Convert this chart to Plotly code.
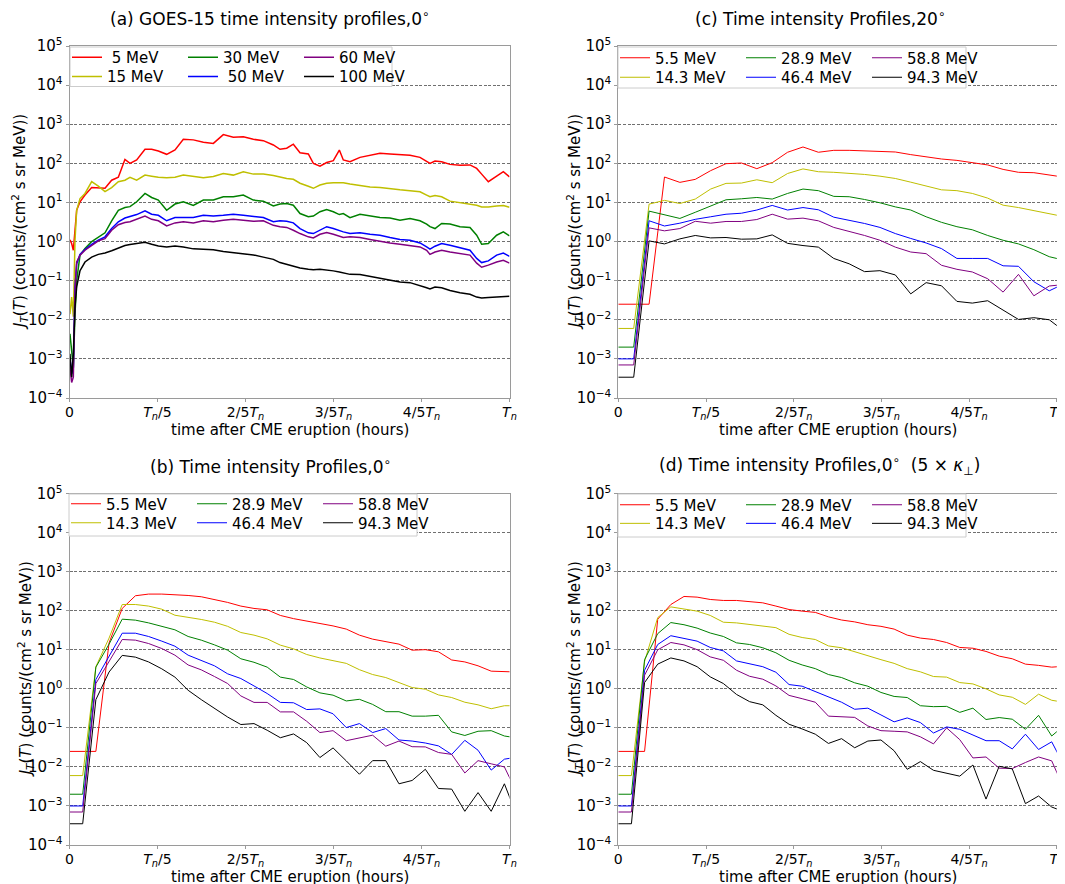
import plotly.graph_objects as go

W, H = 1065, 884

# ---------------- data ----------------
# (a) GOES-15 observations, time as fraction of Tn
t_goes = [0.001, 0.0049, 0.0087, 0.0125, 0.0163, 0.0239, 0.0352, 0.0504, 0.0655, 0.0807,
          0.0958, 0.111, 0.126, 0.1375, 0.1527, 0.1716, 0.1867, 0.2019, 0.2208, 0.2398,
          0.2587, 0.2814, 0.3042, 0.3269, 0.3496, 0.3723, 0.395, 0.4178, 0.4405, 0.4633,
          0.4784, 0.4936, 0.5087, 0.5239, 0.5428, 0.5542, 0.5693, 0.5845, 0.5996, 0.6133,
          0.6223, 0.6375, 0.6602, 0.683, 0.7057, 0.7284, 0.7511, 0.7739, 0.7966, 0.8117,
          0.8193, 0.8307, 0.8458, 0.8648, 0.8875, 0.9102, 0.9254, 0.9367, 0.9519, 0.9708,
          0.986, 1.0]
goes_5 = [1.1, 0.89, 0.6, 2.2, 6.3, 10.4, 15.5, 24, 24, 23,
          37, 44, 126, 100, 122, 229, 229, 207, 170, 219,
          412, 398, 347, 324, 543, 464, 479, 412, 380, 295,
          229, 243, 309, 187, 174, 100, 85, 105, 117, 219,
          122, 110, 142, 163, 180, 174, 170, 160, 142, 115,
          100, 115, 110, 94, 89, 91, 74, 53, 34, 47,
          61, 45]
goes_15 = [0.014, 0.038, 0.012, 1.08, 6.3, 12.6, 17, 34, 26, 19,
           24, 34, 37, 44, 37, 50, 47, 44, 43, 44,
           50, 46, 43, 46, 55, 50, 61, 53, 53, 49,
           44, 41, 39, 31, 26, 23, 28, 31, 32, 32,
           32, 29.5, 27, 25, 24, 22, 21, 20, 18.8, 15.4,
           14, 15.1, 14, 10.8, 9.8, 9.1, 8.5, 7.7, 7.6, 8.1,
           8.4, 7.5]
goes_30 = [0.0044, 0.00134, 0.0006, 0.014, 0.1, 0.45, 0.66, 1.0, 1.32, 1.67,
           3.4, 6.3, 7.4, 7.8, 10.4, 17, 13.4, 11.5, 6.3, 9.1,
           10.4, 8.4, 11.5, 11.5, 14, 14, 15.5, 11.5, 10.8, 8.1,
           9.1, 9.4, 8.5, 5.2, 4.3, 4.5, 5.8, 6.6, 5.8, 4.9,
           5.2, 4.1, 5.0, 4.5, 4.1, 4.0, 3.5, 3.9, 3.4, 2.8,
           2.4, 2.15, 2.9, 2.8, 2.4, 2.3, 1.45, 0.85, 0.89, 1.45,
           1.77, 1.4]
goes_50 = [0.0011, 0.00041, 0.0006, 0.069, 0.27, 0.47, 0.62, 0.85, 1.08, 1.32,
           2.15, 3.2, 4.0, 4.3, 4.9, 6.1, 5.0, 4.7, 3.4, 4.1,
           4.1, 4.1, 4.7, 4.5, 4.7, 5.0, 4.7, 4.3, 4.1, 3.2,
           3.4, 3.3, 3.0, 2.15, 1.67, 1.6, 1.95, 2.4, 2.15, 1.88,
           1.77, 1.6, 1.67, 1.54, 1.45, 1.27, 1.13, 1.08, 0.92, 0.73,
           0.64, 0.76, 0.89, 0.8, 0.69, 0.6, 0.37, 0.29, 0.32, 0.45,
           0.51, 0.42]
goes_60 = [0.0006, 0.00025, 0.00034, 0.056, 0.3, 0.45, 0.6, 0.8, 1.04, 1.19,
           1.95, 2.7, 3.07, 3.2, 3.7, 4.5, 3.7, 3.4, 2.5, 3.0,
           3.2, 3.0, 3.4, 3.2, 3.5, 3.7, 3.5, 3.3, 3.4, 2.6,
           2.4, 2.3, 1.95, 1.6, 1.32, 1.24, 1.54, 1.7, 1.54, 1.37,
           1.27, 1.32, 1.27, 1.13, 1.0, 0.92, 0.85, 0.79, 0.73, 0.6,
           0.47, 0.54, 0.6, 0.54, 0.49, 0.45, 0.28, 0.22, 0.25, 0.3,
           0.33, 0.28]
goes_100 = [0.00134, 0.00034, 0.00134, 0.021, 0.069, 0.18, 0.3, 0.4, 0.47, 0.51,
            0.58, 0.68, 0.79, 0.84, 0.89, 0.96, 0.85, 0.77, 0.73, 0.77,
            0.73, 0.65, 0.64, 0.62, 0.56, 0.52, 0.49, 0.455, 0.4, 0.35,
            0.29, 0.26, 0.24, 0.21, 0.195, 0.19, 0.195, 0.188, 0.178, 0.167,
            0.16, 0.145, 0.143, 0.129, 0.117, 0.106, 0.092, 0.089, 0.076, 0.066,
            0.061, 0.069, 0.066, 0.056, 0.049, 0.045, 0.038, 0.036, 0.037, 0.038,
            0.04, 0.04]

# (c) simulation, 20 degrees
t_sim20 = [0, 0.0351, 0.0702, 0.1053, 0.1404, 0.1755, 0.2106, 0.2457, 0.2808, 0.3159,
           0.351, 0.3861, 0.4212, 0.4563, 0.4914, 0.5265, 0.5616, 0.5967, 0.6318, 0.6669,
           0.702, 0.7371, 0.7722, 0.8073, 0.8424, 0.8775, 0.9126, 0.9477, 0.9828, 1.0179]
c_5p5 = [0.025, 0.025, 0.025, 44.7, 32.6, 38.9, 65, 98, 102, 73, 104, 192, 262, 192, 215,
         215, 211, 207, 195, 167, 145, 129, 119, 106, 91, 70, 59, 57.6, 50, 44]
c_14p3 = [0.006, 0.006, 9.06, 11.3, 9.4, 12.2, 22, 30.7, 31.3, 38, 32, 55, 72, 61, 59,
          56.5, 52, 47, 41, 33, 26.7, 21, 20, 17, 12.9, 8.5, 7.4, 6.1, 5.1, 4.3]
c_28p9 = [0.002, 0.002, 6.0, 4.8, 3.9, 5.6, 8.2, 11.7, 12.4, 13.4, 12.2, 17, 22, 20, 14.3,
          14, 11.9, 9.8, 7.7, 6.4, 4.3, 3.1, 2.4, 2.0, 1.43, 1.08, 0.87, 0.62, 0.41, 0.33]
c_46p4 = [0.001, 0.001, 3.4, 2.5, 2.95, 3.7, 4.3, 5.0, 5.3, 6.4, 8.4, 6.4, 7.4, 6.5, 4.2,
          3.5, 2.9, 2.3, 1.6, 1.2, 0.92, 0.66, 0.37, 0.37, 0.37, 0.24, 0.233, 0.094, 0.055, 0.085]
c_58p8 = [0.0007, 0.0007, 2.24, 1.88, 2.15, 3.3, 2.95, 3.26, 3.26, 3.66, 5.0, 3.74, 3.97, 3.39, 2.3,
          1.84, 1.43, 1.08, 0.72, 0.54, 0.49, 0.247, 0.195, 0.167, 0.112, 0.051, 0.145, 0.041, 0.073, 0.08]
c_94p3 = [0.00034, 0.00034, 1.04, 0.87, 1.17, 1.43, 1.24, 1.27, 1.15, 1.17, 1.48, 0.9, 0.79, 0.72, 0.37,
          0.27, 0.17, 0.18, 0.14, 0.046, 0.089, 0.074, 0.0295, 0.0267, 0.0307, 0.0174, 0.0102, 0.0113, 0.01, 0.005]

# (b) and (d) simulations, 0 degrees
t_sim0 = [0, 0.03, 0.0599, 0.0899, 0.1198, 0.1498, 0.1797, 0.2097, 0.2396, 0.2696,
          0.2995, 0.3295, 0.3594, 0.3894, 0.4193, 0.4493, 0.4792, 0.5092, 0.5391, 0.5691,
          0.599, 0.629, 0.6589, 0.6889, 0.7188, 0.7488, 0.7787, 0.8087, 0.8386, 0.8686,
          0.8985, 0.9285, 0.9584, 0.9884, 1.0183]
b_5p5 = [0.025, 0.025, 0.025, 15, 115, 243, 268, 268, 263, 247, 229, 195, 164, 132, 115, 106, 76, 63,
         55, 47, 41, 34, 23.8, 18.8, 16.4, 14, 9.8, 10.1, 8.9, 5.5, 4.9, 3.9, 2.84, 2.73, 2.7]
b_14p3 = [0.006, 0.006, 3.7, 20, 145, 145, 132, 110, 77, 69, 60, 51, 40, 27.8, 23.8, 19.1, 13.2, 10.6,
          7.6, 6.2, 5.4, 4.5, 3.1, 2.33, 1.95, 1.45, 1.08, 0.98, 0.70, 0.60, 0.455, 0.39, 0.31, 0.37, 0.37]
b_28p9 = [0.002, 0.002, 3.6, 14, 61, 57.6, 49, 40, 32.6, 22, 17.7, 13.4, 9.8, 5.9, 4.8, 3.6, 2.0, 1.74,
          1.12, 0.79, 0.69, 0.49, 0.54, 0.40, 0.26, 0.26, 0.2, 0.2, 0.21, 0.079, 0.064, 0.082, 0.085, 0.062, 0.055]
b_46p4 = [0.001, 0.001, 1.74, 7, 26.7, 26.7, 22, 16.7, 12.4, 7.3, 5.4, 3.9, 2.43, 1.84, 1.19, 0.76, 0.45,
          0.44, 0.295, 0.307, 0.23, 0.102, 0.129, 0.076, 0.096, 0.049, 0.046, 0.041, 0.0346, 0.0209,
          0.048, 0.0268, 0.0083, 0.0158, 0.018]
b_58p8 = [0.0007, 0.0007, 1.37, 5, 18.4, 17.7, 14.5, 10.8, 7.3, 4.1, 3.07, 2.07, 1.37, 0.66, 0.45, 0.45,
          0.257, 0.257, 0.148, 0.076, 0.085, 0.047, 0.055, 0.065, 0.034, 0.046, 0.033, 0.0326, 0.0234,
          0.021, 0.007, 0.0145, 0.012, 0.01, 0.002]
b_94p3 = [0.00035, 0.00035, 0.53, 2.7, 7.2, 6.5, 4.9, 3.26, 2.0, 0.92, 0.53, 0.32, 0.19, 0.122, 0.129,
          0.087, 0.056, 0.07, 0.042, 0.0174, 0.0307, 0.0143, 0.0065, 0.0145, 0.0145, 0.0037, 0.0045,
          0.0087, 0.0028, 0.0027, 0.00073, 0.0022, 0.00073, 0.0037, 0.0005]

d_5p5 = [0.025, 0.025, 0.025, 61, 145, 233, 224, 195, 184, 184, 174, 160, 132, 108, 98, 91, 70, 58, 52,
         44, 40, 34, 23.8, 20, 18.4, 15.4, 11.5, 11, 9.1, 6.9, 5.9, 4.3, 4.0, 3.6, 3.8]
d_14p3 = [0.006, 0.006, 5, 67, 126, 112, 98, 76, 51, 49, 45, 41, 37, 25, 20.7, 18.4, 12.6, 11.3, 8.9,
          6.9, 5.6, 4.5, 3.3, 2.73, 2.07, 2.0, 1.45, 1.34, 1.0, 0.70, 0.61, 0.40, 0.73, 0.51, 0.45]
d_28p9 = [0.002, 0.002, 5.6, 26, 50, 44, 36, 27, 22, 15.1, 13.7, 11.3, 8.4, 5.4, 4.1, 3.3, 2.33, 1.95,
          1.43, 1.17, 0.81, 0.64, 0.6, 0.37, 0.35, 0.356, 0.25, 0.32, 0.164, 0.184, 0.167, 0.092, 0.21,
          0.062, 0.12]
d_46p4 = [0.001, 0.001, 3.0, 13.7, 23, 20, 16.7, 11.5, 9.4, 5.2, 4.4, 3.7, 2.67, 1.29, 1.17, 0.855, 0.62,
          0.455, 0.30, 0.32, 0.215, 0.143, 0.18, 0.137, 0.074, 0.106, 0.092, 0.066, 0.047, 0.047, 0.029,
          0.069, 0.028, 0.044, 0.01]
d_58p8 = [0.0007, 0.0007, 2.24, 10, 15.4, 13.4, 10.1, 6.6, 5.4, 3.0, 2.1, 1.77, 1.19, 0.68, 0.56, 0.455,
          0.2, 0.19, 0.186, 0.112, 0.085, 0.082, 0.079, 0.059, 0.039, 0.1, 0.05, 0.017, 0.018, 0.0093,
          0.0091, 0.013, 0.018, 0.0143, 0.0025]
d_94p3 = [0.00035, 0.00035, 1.45, 4.3, 6.2, 5.2, 3.7, 2.03, 1.37, 0.72, 0.47, 0.39, 0.21, 0.124, 0.094,
          0.069, 0.04, 0.053, 0.031, 0.046, 0.049, 0.026, 0.0087, 0.0137, 0.0082, 0.0068, 0.0058, 0.0112,
          0.0015, 0.0104, 0.0089, 0.00115, 0.0018, 0.00094, 0.0007]

labels_goes = ["\u00a05 MeV", "15 MeV", "30 MeV", "\u00a050 MeV", "60 MeV", "100 MeV"]
labels_sim = ["5.5 MeV", "14.3 MeV", "28.9 MeV", "46.4 MeV", "58.8 MeV", "94.3 MeV"]

x_tickvals = [0, 0.2, 0.4, 0.6, 0.8, 1.0]
x_ticktext = ["0", "<i>T</i><sub><i>n</i></sub>/5", "2/5<i>T</i><sub><i>n</i></sub>",
              "3/5<i>T</i><sub><i>n</i></sub>", "4/5<i>T</i><sub><i>n</i></sub>",
              "<i>T</i><sub><i>n</i></sub>"]
y_tickvals = [1e-4, 1e-3, 1e-2, 1e-1, 1e0, 1e1, 1e2, 1e3, 1e4, 1e5]
y_ticktext = ["10<sup>\u22124</sup>", "10<sup>\u22123</sup>", "10<sup>\u22122</sup>",
              "10<sup>\u22121</sup>", "10<sup>0</sup>", "10<sup>1</sup>", "10<sup>2</sup>",
              "10<sup>3</sup>", "10<sup>4</sup>", "10<sup>5</sup>"]

# ---------------- styling / layout ----------------
colors = ["#ff0000", "#bfbf00", "#008000", "#0000ff", "#800080", "#000000"]
legend_rank = [1, 4, 2, 5, 3, 6]   # row 1: red, green, purple ; row 2: yellow, blue, black
FONT = "DejaVu Sans"
PAGE_OFF = 8   # the browser page adds an 8px body margin; positions below are page pixels


def fx(px):
    return (px - PAGE_OFF) / W


def fy(py):
    return 1 - (py - PAGE_OFF) / H


panels = [
    dict(t=t_goes, ys=[goes_5, goes_15, goes_30, goes_50, goes_60, goes_100], labels=labels_goes,
         xpx=(69.5, 509.5), ypx=(46, 398), lw=1.5,
         title="(a) GOES-15 time intensity profiles,0<sup>\u2218</sup>", tcx=270,
         ylab_x=19, box=(70, 392, 47, 86.5), rows=(57.5, 76.7), entry=111),
    dict(t=t_sim20, ys=[c_5p5, c_14p3, c_28p9, c_46p4, c_58p8, c_94p3], labels=labels_sim,
         xpx=(618.3, 1056.8), ypx=(46, 398), lw=1.0,
         title="(c) Time intensity Profiles,20<sup>\u2218</sup>", tcx=820,
         ylab_x=574, box=(618, 966, 47, 88), rows=(58, 77.5), entry=121),
    dict(t=t_sim0, ys=[b_5p5, b_14p3, b_28p9, b_46p4, b_58p8, b_94p3], labels=labels_sim,
         xpx=(69.5, 509.5), ypx=(493.7, 845), lw=1.0,
         title="(b) Time intensity Profiles,0<sup>\u2218</sup>", tcx=270,
         ylab_x=25, box=(69, 417, 494, 536), rows=(504, 523), entry=121),
    dict(t=t_sim0, ys=[d_5p5, d_14p3, d_28p9, d_46p4, d_58p8, d_94p3], labels=labels_sim,
         xpx=(618.3, 1056.8), ypx=(493.7, 845), lw=1.0,
         title="(d) Time intensity Profiles,0<sup>\u2218</sup>\u00a0\u00a0(5 \u00d7 <i>\u03ba</i><sub>\u22a5</sub>)",
         tcx=820, ylab_x=574, box=(618, 966, 494, 537), rows=(505, 523.6), entry=121),
]

ylabel = "<i>J</i><sub><i>T</i></sub>(<i>T</i>) (counts/(cm<sup>2</sup> s sr MeV))"
xlabel = "time after CME eruption (hours)"

fig = go.Figure()
layout = dict(width=W, height=H, autosize=False,
              margin=dict(l=0, r=0, t=0, b=0, autoexpand=False),
              paper_bgcolor="white", plot_bgcolor="white",
              font=dict(family=FONT, size=15, color="black"),
              showlegend=True)
annotations = []
shapes = []

for p, pan in enumerate(panels):
    n = p + 1
    xa = "x" if n == 1 else f"x{n}"
    ya = "y" if n == 1 else f"y{n}"
    xkey = "xaxis" if n == 1 else f"xaxis{n}"
    ykey = "yaxis" if n == 1 else f"yaxis{n}"
    x0, x1 = pan["xpx"]
    y0, y1 = pan["ypx"]
    layout[xkey] = dict(domain=[fx(x0), fx(x1)], range=[0, 1], anchor=ya, automargin=False,
                        tickvals=x_tickvals, ticktext=x_ticktext, showgrid=False, zeroline=False,
                        showline=True, mirror=True, linecolor="#9a9a9a", linewidth=1,
                        ticks="outside", ticklen=3, tickcolor="#9a9a9a",
                        tickfont=dict(family=FONT, size=14))
    layout[ykey] = dict(domain=[fy(y1), fy(y0)], type="log", range=[-4, 5], anchor=xa,
                        automargin=False,
                        tickvals=y_tickvals, ticktext=y_ticktext, showgrid=True,
                        gridcolor="#707070", gridwidth=0.8, griddash="3px,1.6px", zeroline=False,
                        showline=True, mirror=True, linecolor="#9a9a9a", linewidth=1,
                        ticks="outside", ticklen=3, tickcolor="#9a9a9a",
                        tickfont=dict(family=FONT, size=15))
    for k in range(6):
        row = 0 if k in (0, 2, 4) else 1
        lidx = p * 2 + row
        lname = "legend" if lidx == 0 else f"legend{lidx + 1}"
        fig.add_trace(go.Scatter(x=pan["t"], y=pan["ys"][k], mode="lines", name=pan["labels"][k],
                                 line=dict(color=colors[k], width=pan["lw"]),
                                 xaxis=xa, yaxis=ya, legend=lname, legendrank=legend_rank[k],
                                 cliponaxis=True, hoverinfo="skip"))
    bx0, bx1, by0, by1 = pan["box"]
    shapes.append(dict(type="rect", xref="paper", yref="paper", x0=fx(bx0), x1=fx(bx1),
                       y0=fy(by1), y1=fy(by0), fillcolor="white",
                       line=dict(color="#cccccc", width=1), layer="above"))
    for r in range(2):
        lidx = p * 2 + r
        lname = "legend" if lidx == 0 else f"legend{lidx + 1}"
        layout[lname] = dict(orientation="h", x=fx(bx0 - 3), y=fy(pan["rows"][r]),
                             xanchor="left", yanchor="middle", bgcolor="rgba(0,0,0,0)",
                             borderwidth=0, font=dict(family=FONT, size=15),
                             entrywidth=pan["entry"] - 40, entrywidthmode="pixels",
                             itemwidth=30, tracegroupgap=0, traceorder="normal")
    cx = (x0 + x1) / 2
    annotations.append(dict(text=pan["title"], x=fx(pan["tcx"]), y=fy(y0 - 28),
                            xref="paper", yref="paper", showarrow=False, xanchor="center",
                            yanchor="middle", borderpad=0, font=dict(family=FONT, size=17)))
    annotations.append(dict(text=xlabel, x=fx(cx), y=fy(y1 + 32), xref="paper", yref="paper",
                            showarrow=False, xanchor="center", yanchor="middle", borderpad=0,
                            font=dict(family=FONT, size=15)))
    annotations.append(dict(text=ylabel, x=fx(pan["ylab_x"]), y=fy((y0 + y1) / 2),
                            xref="paper", yref="paper", showarrow=False, textangle=-90,
                            xanchor="center", yanchor="middle", font=dict(family=FONT, size=15)))

layout["annotations"] = annotations
layout["shapes"] = shapes
fig.update_layout(**layout)
# pull the x tick labels a little closer to the axis so the subscripts clear the axis title
try:
    fig.update_xaxes(ticklabelstandoff=-2)
except (ValueError, TypeError):
    pass
fig.write_html("out.html")
